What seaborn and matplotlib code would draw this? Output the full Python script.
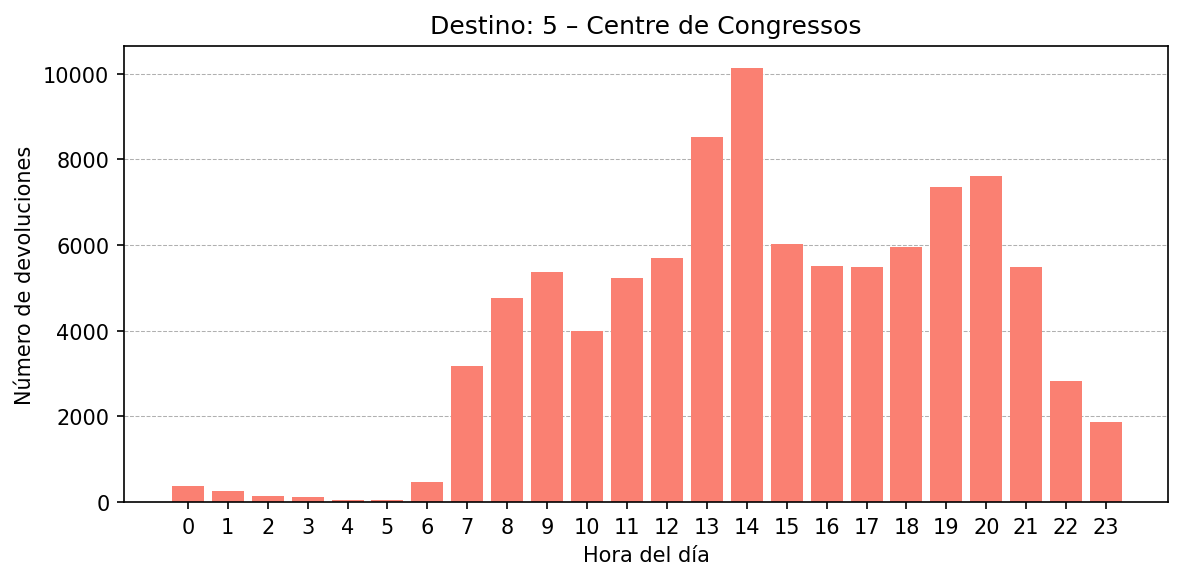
import numpy as np
import pandas as pd
import matplotlib
matplotlib.use("Agg")
import matplotlib.pyplot as plt
import seaborn as sns

# -----------------------------
# Data
# -----------------------------
horas = list(range(24))
devoluciones = [365, 265, 130, 105, 45, 45, 475, 3170, 4755, 5360,
                3990, 5220, 5690, 8530, 10140, 6015, 5500, 5480,
                5945, 7365, 7620, 5480, 2820, 1865]

df = pd.DataFrame({"hora": horas, "devoluciones": devoluciones})

# -----------------------------
# Plot
# -----------------------------
fig, ax = plt.subplots(figsize=(7.893, 3.873), dpi=150)

sns.barplot(
    data=df,
    x="hora",
    y="devoluciones",
    color="salmon",
    saturation=1,
    width=0.8,
    ax=ax
)

ax.set_title("Destino: 5 – Centre de Congressos")
ax.set_xlabel("Hora del día")
ax.set_ylabel("Número de devoluciones")
ax.set_xlim(-1.6, 24.55)
ax.grid(axis="y", linestyle="--", linewidth=0.5, color="#b0b0b0")
ax.set_axisbelow(True)

fig.subplots_adjust(left=0.1047, right=0.9865, top=0.9191, bottom=0.1343)
plt.savefig("out.png", dpi=150)
